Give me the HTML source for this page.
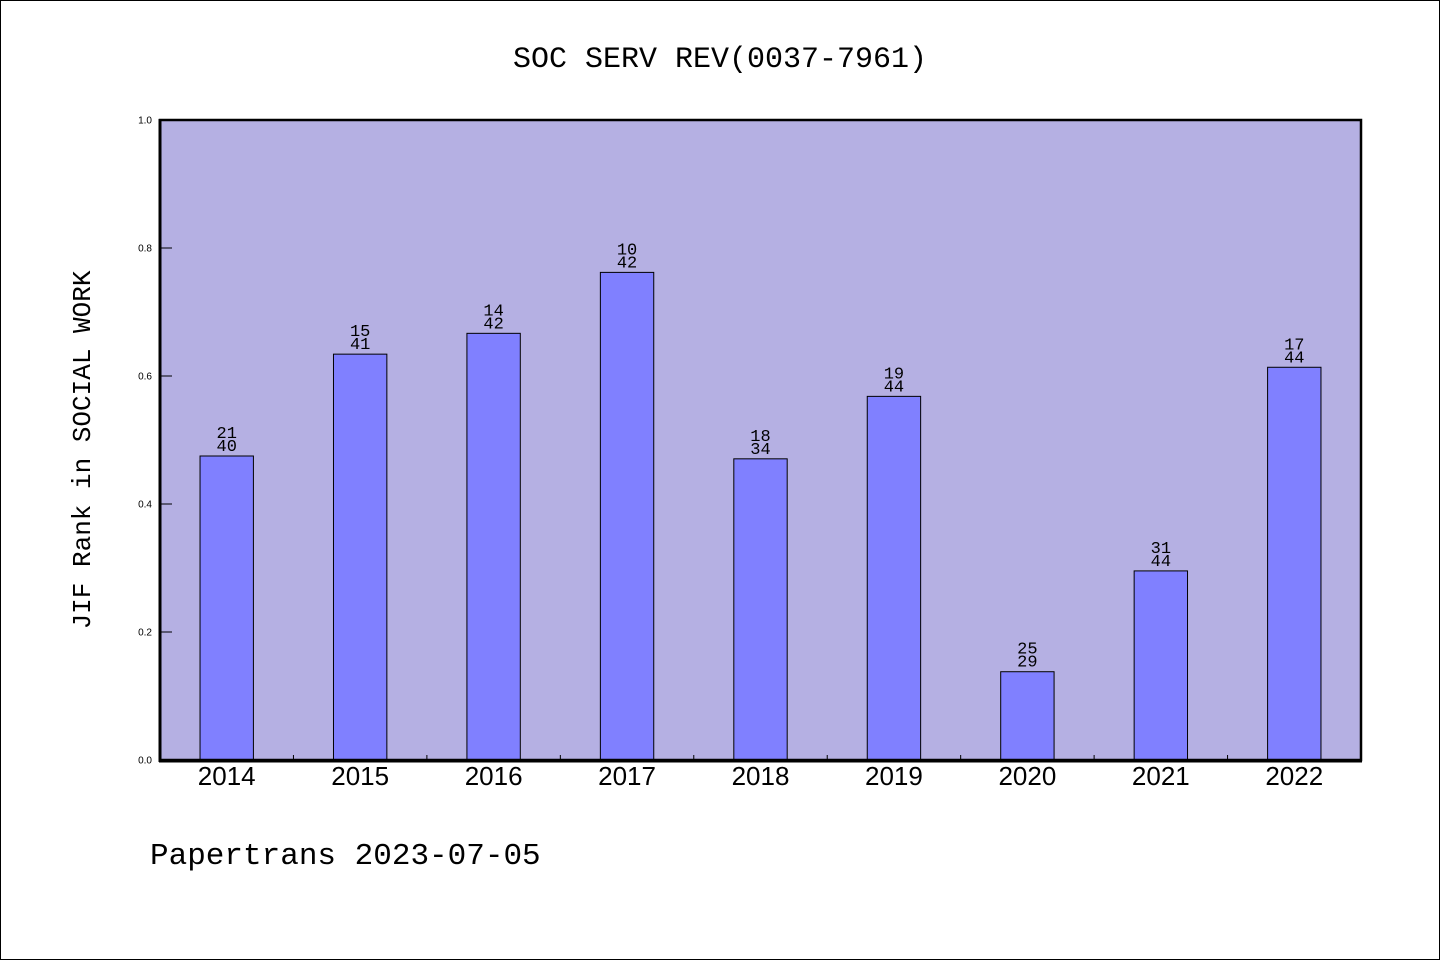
<!DOCTYPE html>
<html><head><meta charset="utf-8"><style>
html,body{margin:0;padding:0;background:#fff;}
svg{display:block;font-family:"Liberation Mono","DejaVu Sans Mono",monospace;}
</style></head><body>
<svg id="chart" width="1440" height="960" viewBox="0 0 1440 960">
<rect x="0.5" y="0.5" width="1439" height="959" fill="#fff" stroke="#000" stroke-width="1"/>
<text x="720" y="67" text-anchor="middle" font-size="30">SOC SERV REV(0037-7961)</text>
<rect x="160" y="120" width="1201" height="640" fill="#b5b0e3"/>
<g id="bars"></g>
<g id="ticks"></g>
<rect x="160" y="120" width="1201" height="640" fill="none" stroke="#000" stroke-width="2.5"/>
<line x1="159" y1="761" x2="1362" y2="761" stroke="#000" stroke-width="3"/>
<line x1="160" y1="119" x2="160" y2="762" stroke="#000" stroke-width="3"/>
<text transform="translate(90,450) rotate(-90)" text-anchor="middle" font-size="26">JIF Rank in SOCIAL WORK</text>
<text x="150" y="864" font-size="31">Papertrans 2023-07-05</text>
</svg>
<script>
const years = ["2014","2015","2016","2017","2018","2019","2020","2021","2022"];
const ranks = [21,15,14,10,18,19,25,31,17];
const totals = [40,41,42,42,34,44,29,44,44];
const yTicks = [0.0,0.2,0.4,0.6,0.8,1.0];
const yTickLabels = ["0.0","0.2","0.4","0.6","0.8","1.0"];
const NS="http://www.w3.org/2000/svg";
const X0=160,X1=1361,Y0=760,Y1=120;
const band=(X1-X0)/years.length;
function xc(i){return X0+band*(i+0.5);}
function ys(v){return Y0-(v-0)/(1-0)*(Y0-Y1);}
const bars=document.getElementById('bars'), ticks=document.getElementById('ticks');
function mk(t,a){const e=document.createElementNS(NS,t);for(const k in a)e.setAttribute(k,a[k]);return e;}
years.forEach((yr,i)=>{
  const v=1-ranks[i]/totals[i];
  const w=band*0.4, y=ys(v);
  const r=mk('rect',{x:xc(i)-w/2,y:y,width:w,height:Y0-y,fill:'#8080ff',stroke:'#000','stroke-width':1});
  
  
  bars.appendChild(r);
  const t1=mk('text',{x:xc(i),y:y-18,'text-anchor':'middle','font-size':17});
  t1.textContent=ranks[i];
  
  
  bars.appendChild(t1);
  const t2=mk('text',{x:xc(i),y:y-5,'text-anchor':'middle','font-size':17});
  t2.textContent=totals[i];
  
  
  bars.appendChild(t2);
  const xl=mk('text',{x:xc(i),y:785,'text-anchor':'middle','font-size':26,'font-family':'Liberation Sans, sans-serif'});
  xl.textContent=yr;
  
  
  ticks.appendChild(xl);
  if(i>0){
    const tk=mk('line',{x1:X0+band*i,y1:Y0,x2:X0+band*i,y2:Y0-5,stroke:'#000','stroke-width':1});
    
    
    ticks.appendChild(tk);
  }
});
yTicks.forEach((v,i)=>{
  const y=ys(v);
  const tk=mk('line',{x1:X0,y1:y,x2:X0+12,y2:y,stroke:'#000','stroke-width':1});
  
  
  ticks.appendChild(tk);
  const tl=mk('text',{x:152,y:y+3.5,'text-anchor':'end','font-size':10,'font-family':'Liberation Sans, sans-serif'});
  tl.textContent=yTickLabels[i];
  
  
  ticks.appendChild(tl);
});
</script>
</body></html>
